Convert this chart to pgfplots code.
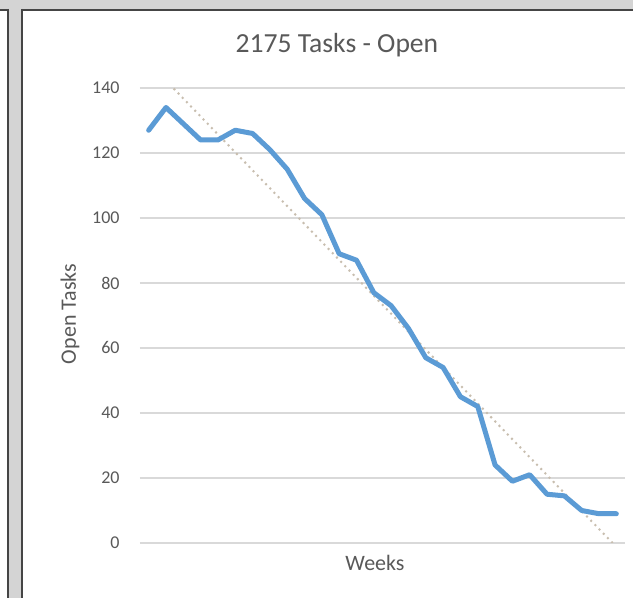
\documentclass[border=0pt]{standalone}
\usepackage{fontspec}
\setmainfont{Carlito}
\usepackage{pgfplots}
\pgfplotsset{compat=1.18}
\definecolor{xlblue}{HTML}{5B9BD5}
\definecolor{xlgrid}{HTML}{D9D9D9}
\definecolor{xltext}{HTML}{595959}
\definecolor{trendc}{RGB}{200,190,175}
\definecolor{framegray}{HTML}{D4D4D4}
\definecolor{framedark}{HTML}{454545}
\begin{document}
\begin{tikzpicture}
% picture frame, 1 px of the reference = 0.5pt, origin at the plot box corner
\path[use as bounding box] (-70pt,-27.5pt) rectangle (246.5pt,271.5pt);
\fill[white] (-70pt,-27.5pt) rectangle (246.5pt,271.5pt);
\fill[framegray] (-70pt,267pt) rectangle (246.5pt,271.5pt);
\fill[framegray] (-66pt,-27.5pt) rectangle (-59pt,271.5pt);
\draw[framedark, line width=1pt] (-70pt,266.5pt) -- (-66pt,266.5pt);
\draw[framedark, line width=1pt] (-59pt,266.5pt) -- (246.5pt,266.5pt);
\draw[framedark, line width=1pt] (-66pt,267pt) -- (-66pt,-27.5pt);
\draw[framedark, line width=1pt] (-59pt,267pt) -- (-59pt,-27.5pt);
\begin{axis}[
  at={(0,0)}, anchor=south west,
  scale only axis, width=242.5pt, height=227.5pt,
  xmin=-0.5, xmax=27.5, ymin=0, ymax=140,
  ytick={0,20,...,140}, xtick=\empty,
  axis line style={draw=none}, major tick length=0pt,
  ymajorgrids, grid style={xlgrid, line width=0.75pt},
  /pgf/number format/assume math mode=true,
  yticklabel style={font=\fontsize{9}{10}\selectfont, text=xltext,
    anchor=east, inner sep=0pt, xshift=-10pt},
]
\addplot[trendc, line width=1pt, dotted] coordinates {(0,147.8) (27,-1.2)};
\addplot[xlblue, line width=2.5pt, line join=round, line cap=round, mark=none]
  coordinates {
  (0,127) (1,134) (2,129) (3,124) (4,124) (5,127) (6,126) (7,121)
  (8,115) (9,106) (10,101) (11,89) (12,87) (13,77) (14,73) (15,66)
  (16,57) (17,54) (18,45) (19,42) (20,24) (21,19) (22,21) (23,15)
  (24,14.5) (25,10) (26,9) (27,9)};
\end{axis}
\node[text=xltext, font=\fontsize{13.8}{15}\selectfont] at (98.5pt,249pt) {2175 Tasks - Open};
\node[text=xltext, font=\fontsize{11}{12}\selectfont] at (117.5pt,-10pt) {Weeks};
\node[text=xltext, font=\fontsize{11}{12}\selectfont, rotate=90] at (-35pt,114.5pt) {Open Tasks};
\end{tikzpicture}
\end{document}
